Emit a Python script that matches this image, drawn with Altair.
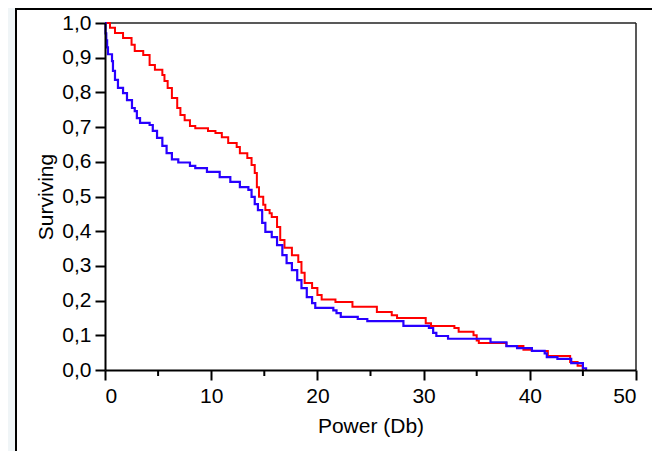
import altair as alt
import pandas as pd

# Group 1 (red) step curve: time and surviving fraction
red_t = [0, 0.47, 0.94, 1.7, 2.5, 2.8, 3.6, 4.2, 4.7, 5.4, 5.6, 5.9, 6.3, 6.8, 7.1, 7.5,
         8.0, 8.5, 9.7, 10.4, 11.0, 11.6, 12.4, 12.7, 13.4, 13.8, 14.1, 14.3, 14.5, 14.9,
         15.1, 15.5, 15.7, 16.2, 16.5, 16.9, 17.6, 18.2, 18.5, 18.8, 19.5, 20.0, 20.4,
         21.7, 23.3, 25.6, 27.0, 27.5, 30.2, 30.7, 32.9, 33.3, 34.7, 35.0, 35.2, 37.8,
         39.4, 40.2, 41.7, 43.8, 44.5, 45.0]
red_s = [1.0, 0.986, 0.971, 0.957, 0.937, 0.919, 0.908, 0.879, 0.865, 0.85, 0.833, 0.813,
         0.784, 0.755, 0.735, 0.72, 0.703, 0.697, 0.689, 0.683, 0.671, 0.654, 0.643, 0.625,
         0.611, 0.591, 0.568, 0.527, 0.499, 0.476, 0.461, 0.452, 0.441, 0.412, 0.375, 0.352,
         0.331, 0.311, 0.28, 0.251, 0.236, 0.216, 0.203, 0.196, 0.182, 0.167, 0.158, 0.15,
         0.135, 0.127, 0.121, 0.11, 0.10, 0.085, 0.078, 0.069, 0.058, 0.055, 0.04, 0.023,
         0.012, 0.0]

# Group 2 (blue) step curve
blue_t = [0, 0.05, 0.12, 0.2, 0.28, 0.66, 0.75, 0.94, 1.22, 1.7, 2.07, 2.54, 2.8, 3.0, 3.3,
          4.2, 4.5, 4.9, 5.4, 5.8, 6.3, 6.9, 8.0, 8.5, 9.6, 10.8, 11.8, 12.7, 13.5, 13.8,
          14.1, 14.4, 14.8, 15.1, 15.7, 16.2, 16.7, 17.1, 17.6, 18.1, 18.5, 19.0, 19.5,
          19.8, 21.5, 21.8, 22.2, 23.8, 24.7, 28.1, 30.5, 30.9, 31.2, 32.3, 36.3, 37.8,
          38.8, 40.2, 41.4, 41.6, 42.6, 43.9, 45.0, 45.3]
blue_s = [1.0, 0.97, 0.95, 0.93, 0.91, 0.89, 0.862, 0.836, 0.813, 0.798, 0.778, 0.755,
          0.746, 0.726, 0.712, 0.706, 0.689, 0.669, 0.646, 0.625, 0.607, 0.598, 0.588,
          0.582, 0.571, 0.556, 0.542, 0.527, 0.519, 0.499, 0.478, 0.461, 0.424, 0.398,
          0.383, 0.36, 0.331, 0.308, 0.288, 0.259, 0.236, 0.21, 0.193, 0.179, 0.172, 0.164,
          0.153, 0.147, 0.141, 0.127, 0.121, 0.107, 0.098, 0.09, 0.08, 0.069, 0.063, 0.055,
          0.048, 0.037, 0.032, 0.02, 0.005, 0.0]

x_major = [0, 10, 20, 30, 40, 50]
x_minor = [5, 15, 25, 35, 45]
y_ticks = [0.0, 0.1, 0.2, 0.3, 0.4, 0.5, 0.6, 0.7, 0.8, 0.9, 1.0]

W, H = 531, 347
FONT = "Liberation Sans"

red_df = pd.DataFrame({"t": red_t, "s": red_s})
blue_df = pd.DataFrame({"t": blue_t, "s": blue_s})

xscale = alt.Scale(domain=[0, 50], nice=False, zero=False)
yscale = alt.Scale(domain=[0, 1], nice=False)

xaxis = alt.Axis(values=x_major, format="d", title="Power (Db)", tickSize=10,
                 labelPadding=5, titlePadding=9, zindex=1)
yaxis = alt.Axis(values=y_ticks, labelExpr="replace(format(datum.value, '.1f'), '.', ',')",
                 title="Surviving", tickSize=10, labelPadding=4, titlePadding=5, zindex=1)

frame = alt.Chart(pd.DataFrame({"a": [0]})).mark_rect(
    fill="white", stroke="black", strokeWidth=2
).encode(x=alt.value(-89), x2=alt.value(640), y=alt.value(-14), y2=alt.value(520))

red_line = alt.Chart(red_df).mark_line(
    interpolate="step-after", color="#ff0000", strokeWidth=2
).encode(x=alt.X("t:Q", scale=xscale, axis=xaxis), y=alt.Y("s:Q", scale=yscale, axis=yaxis))

blue_line = alt.Chart(blue_df).mark_line(
    interpolate="step-after", color="#2800ff", strokeWidth=2.2
).encode(x=alt.X("t:Q", scale=xscale, axis=xaxis), y=alt.Y("s:Q", scale=yscale, axis=yaxis))

minor = alt.Chart(pd.DataFrame({"m": x_minor})).mark_rule(
    color="black", strokeWidth=2
).encode(x=alt.X("m:Q", scale=xscale, axis=xaxis), y=alt.value(H), y2=alt.value(H + 6))

top_rule = alt.Chart(pd.DataFrame({"a": [0]})).mark_rule(
    color="#222222", strokeWidth=1.5
).encode(y=alt.datum(1.0, scale=yscale, axis=yaxis))

right_rule = alt.Chart(pd.DataFrame({"a": [0]})).mark_rule(
    color="#222222", strokeWidth=1.5
).encode(x=alt.datum(50, scale=xscale, axis=xaxis))

chart = alt.layer(frame, top_rule, right_rule, red_line, blue_line, minor).properties(
    width=W, height=H,
    padding={"left": 97, "top": 15, "right": 16, "bottom": 81},
    autosize=alt.AutoSizeParams(type="none"),
    background="#f0f5f7",
).configure_view(stroke=None).configure_axis(
    grid=False, domainColor="black", domainWidth=2, tickColor="black", tickWidth=2,
    labelColor="black", labelFont=FONT, labelFontSize=21, titleFont=FONT,
    titleFontSize=21, titleFontWeight="normal", titleColor="black",
)

chart.save("out.html", embed_options={"renderer": "svg", "actions": False})
